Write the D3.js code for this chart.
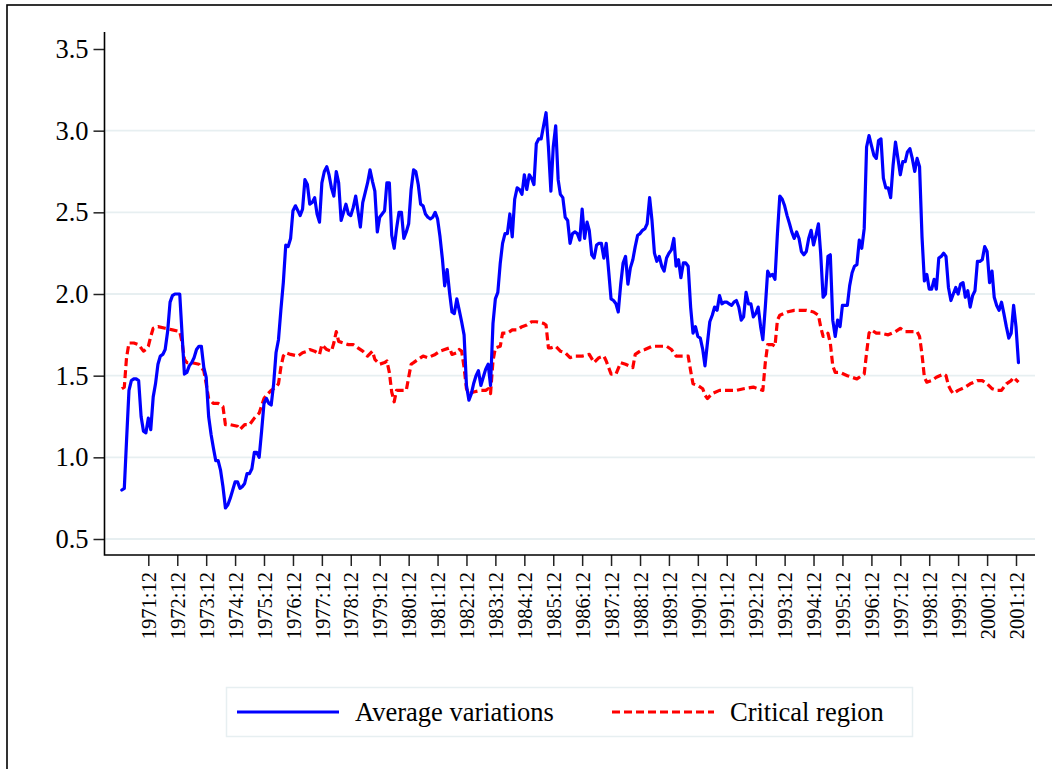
<!DOCTYPE html>
<html>
<head>
<meta charset="utf-8">
<script src="https://cdn.jsdelivr.net/npm/d3@7.9.0/dist/d3.min.js"></script>
<style>
  body { margin: 0; background: #fff; }
  svg { display: block; }
  text { font-family: "Liberation Serif", "Times New Roman", serif; fill: #000; }
</style>
</head>
<body>
<svg id="chart" width="1052" height="769"></svg>
<script>
// tick labels
const xTickLabels = ["1971:12", "1972:12", "1973:12", "1974:12", "1975:12", "1976:12", "1977:12",
  "1978:12", "1979:12", "1980:12", "1981:12", "1982:12", "1983:12", "1984:12", "1985:12",
  "1986:12", "1987:12", "1988:12", "1989:12", "1990:12", "1991:12", "1992:12", "1993:12",
  "1994:12", "1995:12", "1996:12", "1997:12", "1998:12", "1999:12", "2000:12", "2001:12"];
const yTicks = [0.5, 1.0, 1.5, 2.0, 2.5, 3.0, 3.5];
const legendLabels = ["Average variations", "Critical region"];

// months counted from 1971:01
const avgMonth = [0, 1, 2, 3, 4, 5, 6, 7, 8, 9, 10, 11, 12, 13, 14, 15, 16, 17, 18, 19, 20, 21, 22, 23, 24, 25, 26, 27, 28, 29,
  30, 31, 32, 33, 34, 35, 36, 37, 38, 39, 40, 41, 42, 43, 44, 45, 46, 47, 48, 49, 50, 51, 52, 53, 54, 55, 56, 57, 58, 59,
  60, 61, 62, 63, 64, 65, 66, 67, 68, 69, 70, 71, 72, 73, 74, 75, 76, 77, 78, 79, 80, 81, 82, 83, 84, 85, 86, 87, 88, 89,
  90, 91, 92, 93, 94, 95, 96, 97, 98, 99, 100, 101, 102, 103, 104, 105, 106, 107, 108, 109, 110, 111, 112, 113, 114, 115, 116, 117, 118, 119,
  120, 121, 122, 123, 124, 125, 126, 127, 128, 129, 130, 131, 132, 133, 134, 135, 136, 137, 138, 139, 140, 141, 142, 143, 144, 145, 146, 147, 148, 149,
  150, 151, 152, 153, 154, 155, 156, 157, 158, 159, 160, 161, 162, 163, 164, 165, 166, 167, 168, 169, 170, 171, 172, 173, 174, 175, 176, 177, 178, 179,
  180, 181, 182, 183, 184, 185, 186, 187, 188, 189, 190, 191, 192, 193, 194, 195, 196, 197, 198, 199, 200, 201, 202, 203, 204, 205, 206, 207, 208, 209,
  210, 211, 212, 213, 214, 215, 216, 217, 218, 219, 220, 221, 222, 223, 224, 225, 226, 227, 228, 229, 230, 231, 232, 233, 234, 235, 236, 237, 238, 239,
  240, 241, 242, 243, 244, 245, 246, 247, 248, 249, 250, 251, 252, 253, 254, 255, 256, 257, 258, 259, 260, 261, 262, 263, 264, 265, 266, 267, 268, 269,
  270, 271, 272, 273, 274, 275, 276, 277, 278, 279, 280, 281, 282, 283, 284, 285, 286, 287, 288, 289, 290, 291, 292, 293, 294, 295, 296, 297, 298, 299,
  300, 301, 302, 303, 304, 305, 306, 307, 308, 309, 310, 311, 312, 313, 314, 315, 316, 317, 318, 319, 320, 321, 322, 323, 324, 325, 326, 327, 328, 329,
  330, 331, 332, 333, 334, 335, 336, 337, 338, 339, 340, 341, 342, 343, 344, 345, 346, 347, 348, 349, 350, 351, 352, 353, 354, 355, 356, 357, 358, 359,
  360, 361, 362, 363, 364, 365, 366, 367, 368, 369, 370, 371, 372];
const avgValue = [0.80, 0.81, 1.10, 1.41, 1.47, 1.48, 1.48, 1.47, 1.25, 1.16, 1.15, 1.24, 1.17, 1.37, 1.45, 1.57, 1.62, 1.63, 1.66, 1.77, 1.95, 1.99, 2.00, 2.00, 2.00, 1.74, 1.51, 1.52, 1.56, 1.58,
  1.61, 1.66, 1.68, 1.68, 1.55, 1.49, 1.25, 1.14, 1.06, 0.98, 0.98, 0.92, 0.82, 0.69, 0.71, 0.75, 0.80, 0.85, 0.85, 0.81, 0.82, 0.84, 0.90, 0.90, 0.93, 1.03, 1.03, 1.00, 1.16, 1.33,
  1.36, 1.33, 1.32, 1.45, 1.64, 1.72, 1.90, 2.07, 2.30, 2.29, 2.34, 2.51, 2.54, 2.51, 2.48, 2.52, 2.70, 2.67, 2.55, 2.56, 2.59, 2.49, 2.44, 2.68, 2.75, 2.78, 2.73, 2.65, 2.60, 2.75,
  2.68, 2.45, 2.50, 2.55, 2.49, 2.48, 2.53, 2.60, 2.51, 2.41, 2.56, 2.62, 2.68, 2.76, 2.69, 2.63, 2.38, 2.47, 2.49, 2.51, 2.68, 2.68, 2.36, 2.28, 2.40, 2.50, 2.50, 2.34, 2.38, 2.43,
  2.64, 2.76, 2.75, 2.67, 2.55, 2.54, 2.49, 2.47, 2.46, 2.47, 2.50, 2.46, 2.35, 2.21, 2.05, 2.15, 2.01, 1.89, 1.88, 1.97, 1.90, 1.83, 1.75, 1.44, 1.35, 1.39, 1.45, 1.50, 1.53, 1.44,
  1.49, 1.54, 1.57, 1.44, 1.82, 1.97, 2.01, 2.19, 2.31, 2.37, 2.37, 2.49, 2.35, 2.58, 2.65, 2.64, 2.61, 2.73, 2.64, 2.73, 2.71, 2.67, 2.92, 2.95, 2.95, 3.03, 3.11, 2.90, 2.63, 2.90,
  3.03, 2.70, 2.61, 2.59, 2.47, 2.45, 2.31, 2.37, 2.38, 2.37, 2.33, 2.52, 2.34, 2.44, 2.39, 2.24, 2.22, 2.30, 2.31, 2.31, 2.22, 2.31, 2.14, 1.97, 1.96, 1.94, 1.89, 2.06, 2.19, 2.23,
  2.06, 2.16, 2.21, 2.29, 2.36, 2.37, 2.39, 2.40, 2.43, 2.59, 2.45, 2.25, 2.20, 2.23, 2.17, 2.14, 2.22, 2.25, 2.27, 2.34, 2.17, 2.21, 2.10, 2.19, 2.19, 2.17, 1.92, 1.76, 1.80, 1.74,
  1.73, 1.66, 1.56, 1.70, 1.83, 1.87, 1.92, 1.90, 1.99, 1.94, 1.95, 1.95, 1.94, 1.93, 1.95, 1.96, 1.92, 1.84, 1.86, 2.01, 1.94, 1.94, 1.86, 1.88, 1.92, 1.80, 1.72, 1.92, 2.14, 2.11,
  2.12, 2.09, 2.37, 2.60, 2.58, 2.54, 2.48, 2.43, 2.38, 2.34, 2.38, 2.34, 2.26, 2.24, 2.26, 2.34, 2.39, 2.30, 2.36, 2.43, 2.25, 1.98, 2.00, 2.23, 2.24, 1.84, 1.74, 1.84, 1.80, 1.93,
  1.93, 1.93, 2.05, 2.13, 2.17, 2.18, 2.33, 2.28, 2.40, 2.90, 2.97, 2.91, 2.85, 2.83, 2.94, 2.95, 2.71, 2.65, 2.65, 2.59, 2.79, 2.93, 2.83, 2.73, 2.81, 2.81, 2.87, 2.89, 2.83, 2.75,
  2.83, 2.78, 2.35, 2.08, 2.12, 2.03, 2.03, 2.09, 2.03, 2.22, 2.23, 2.25, 2.23, 2.04, 1.96, 2.00, 2.04, 2.00, 2.06, 2.07, 1.98, 2.02, 1.92, 1.99, 2.02, 2.20, 2.20, 2.21, 2.29, 2.26,
  2.07, 2.14, 1.98, 1.93, 1.90, 1.95, 1.88, 1.80, 1.73, 1.76, 1.93, 1.80, 1.58];

const critMonth = [0, 1, 2, 3, 5, 7, 9, 10, 11, 12, 13, 15, 18, 21, 24, 25, 26, 27, 29, 32, 34, 35, 36, 38, 40, 42, 43, 45, 48, 49,
  51, 53, 55, 57, 59, 60, 62, 64, 65, 66, 67, 68, 70, 73, 75, 77, 78, 80, 82, 83, 85, 87, 88, 89, 90, 92, 94, 96, 98, 100,
  102, 104, 105, 107, 109, 110, 111, 112, 113, 114, 116, 118, 119, 120, 121, 123, 125, 127, 130, 132, 134, 136, 137, 139, 140, 141, 142, 143, 144, 146,
  149, 151, 152, 153, 154, 155, 157, 158, 160, 162, 164, 166, 168, 170, 172, 175, 176, 177, 178, 180, 182, 184, 186, 188, 191, 194, 196, 198, 200, 201,
  203, 205, 207, 209, 212, 213, 215, 217, 220, 224, 226, 228, 230, 232, 235, 236, 237, 239, 241, 242, 243, 245, 248, 251, 255, 258, 262, 264, 266, 267,
  268, 270, 271, 272, 273, 276, 279, 284, 287, 289, 290, 291, 292, 293, 294, 295, 296, 298, 301, 303, 305, 307, 308, 309, 310, 311, 313, 315, 318, 321,
  323, 325, 328, 330, 331, 332, 333, 334, 336, 338, 341, 342, 343, 344, 345, 347, 350, 352, 355, 357, 359, 361, 363, 365, 367, 369, 370, 372];
const critValue = [1.42, 1.43, 1.61, 1.70, 1.70, 1.69, 1.65, 1.66, 1.68, 1.74, 1.79, 1.80, 1.79, 1.78, 1.77, 1.70, 1.60, 1.58, 1.58, 1.57, 1.53, 1.45, 1.36, 1.33, 1.33, 1.31, 1.20, 1.20, 1.19, 1.17,
  1.20, 1.20, 1.24, 1.27, 1.36, 1.38, 1.41, 1.43, 1.45, 1.55, 1.62, 1.64, 1.63, 1.62, 1.64, 1.65, 1.66, 1.65, 1.63, 1.69, 1.66, 1.65, 1.70, 1.77, 1.71, 1.70, 1.69, 1.69, 1.67, 1.65,
  1.62, 1.65, 1.60, 1.57, 1.58, 1.59, 1.52, 1.40, 1.34, 1.41, 1.41, 1.41, 1.49, 1.57, 1.58, 1.60, 1.62, 1.61, 1.63, 1.65, 1.66, 1.67, 1.63, 1.64, 1.66, 1.65, 1.55, 1.42, 1.39, 1.40,
  1.41, 1.41, 1.42, 1.39, 1.59, 1.67, 1.68, 1.76, 1.76, 1.78, 1.78, 1.80, 1.81, 1.83, 1.83, 1.82, 1.81, 1.67, 1.67, 1.68, 1.65, 1.64, 1.61, 1.62, 1.62, 1.63, 1.58, 1.61, 1.62, 1.59,
  1.51, 1.51, 1.58, 1.57, 1.55, 1.63, 1.65, 1.66, 1.68, 1.68, 1.68, 1.66, 1.62, 1.62, 1.62, 1.53, 1.45, 1.44, 1.42, 1.38, 1.36, 1.39, 1.41, 1.41, 1.41, 1.42, 1.43, 1.42, 1.41, 1.58,
  1.69, 1.69, 1.68, 1.84, 1.87, 1.89, 1.90, 1.90, 1.89, 1.87, 1.80, 1.74, 1.74, 1.76, 1.70, 1.56, 1.52, 1.52, 1.50, 1.49, 1.48, 1.50, 1.51, 1.64, 1.76, 1.78, 1.76, 1.76, 1.75, 1.77,
  1.79, 1.77, 1.77, 1.77, 1.74, 1.63, 1.49, 1.46, 1.47, 1.49, 1.51, 1.50, 1.44, 1.41, 1.39, 1.41, 1.43, 1.45, 1.47, 1.47, 1.45, 1.42, 1.41, 1.41, 1.45, 1.47, 1.49, 1.46];

const svg = d3.select("#chart");
const W = 1052, H = 769;
const plot = { left: 104.5, right: 1035, top: 32, bottom: 555 };

const startMonth = new Date(1971, 0, 1);
const parseTick = d3.timeParse("%Y:%m");
const x = d3.scaleTime()
  .domain([parseTick("1971:12"), parseTick("2001:12")])
  .range([148.3, 1016]);
const y = d3.scaleLinear().domain([0.5, 3.5]).range([539, 49]);

// outer frame
svg.append("rect")
  .attr("x", 7).attr("y", 5)
  .attr("width", W + 20).attr("height", H + 20)
  .attr("fill", "#fff").attr("stroke", "#000").attr("stroke-width", 1.6);

// grid lines
svg.append("g").selectAll("line")
  .data(yTicks.filter(d => d < 3.5))
  .join("line")
  .attr("x1", plot.left + 1).attr("x2", plot.right)
  .attr("y1", d => y(d)).attr("y2", d => y(d))
  .attr("stroke", "#e7eff1").attr("stroke-width", 1.8);

// y axis
const yAxis = svg.append("g")
  .attr("transform", `translate(${plot.left},0)`)
  .call(d3.axisLeft(y).tickValues(yTicks).tickFormat(d3.format(".1f")).tickSize(11).tickPadding(5));
yAxis.select(".domain").remove();
yAxis.selectAll(".tick line").attr("stroke", "#222").attr("stroke-width", 1.5);
yAxis.selectAll(".tick text").attr("font-size", 26.5).attr("font-family", null);

// x axis
const xAxis = svg.append("g")
  .attr("transform", `translate(0,${plot.bottom})`)
  .call(d3.axisBottom(x).tickValues(xTickLabels.map(parseTick)).tickFormat(d3.timeFormat("%Y:%m")).tickSize(11));
xAxis.select(".domain").remove();
xAxis.selectAll(".tick line").attr("stroke", "#222").attr("stroke-width", 1.5);
xAxis.selectAll(".tick text")
  .attr("font-size", 20.5).attr("font-family", null)
  .attr("transform", "rotate(-90)")
  .attr("text-anchor", "end")
  .attr("x", -17).attr("y", 0).attr("dy", "0.35em");

// axis lines
svg.append("path")
  .attr("d", `M${plot.left},${plot.top}V${plot.bottom}H${plot.right}`)
  .attr("fill", "none").attr("stroke", "#000").attr("stroke-width", 1.6);

// series
const line = d3.line()
  .x(d => x(d3.timeMonth.offset(startMonth, d[0])))
  .y(d => y(d[1]));

const critData = d3.zip(critMonth, critValue);
const avgData = d3.zip(avgMonth, avgValue);

svg.append("path")
  .datum(critData)
  .attr("d", line)
  .attr("fill", "none").attr("stroke", "#ff0000").attr("stroke-width", 3.2)
  .attr("stroke-dasharray", "8,4").attr("stroke-linejoin", "round");

svg.append("path")
  .datum(avgData)
  .attr("d", line)
  .attr("fill", "none").attr("stroke", "#0000ff").attr("stroke-width", 3.2)
  .attr("stroke-linejoin", "round").attr("stroke-linecap", "round");

// legend
const legend = svg.append("g");
legend.append("rect")
  .attr("x", 226.5).attr("y", 687.5).attr("width", 686).attr("height", 49)
  .attr("fill", "#fff").attr("stroke", "#e7eff1").attr("stroke-width", 1.5);

const legendItems = [
  { x: 237, color: "#0000ff", dash: null },
  { x: 612, color: "#ff0000", dash: "8,4" }
];
legendItems.forEach((it, i) => {
  legend.append("line")
    .attr("x1", it.x).attr("x2", it.x + 102)
    .attr("y1", 712).attr("y2", 712)
    .attr("stroke", it.color).attr("stroke-width", 3.2)
    .attr("stroke-dasharray", it.dash);
  legend.append("text")
    .attr("x", it.x + 118).attr("y", 712).attr("dy", "0.33em")
    .attr("font-size", 26.5)
    .text(legendLabels[i]);
});
</script>
</body>
</html>
